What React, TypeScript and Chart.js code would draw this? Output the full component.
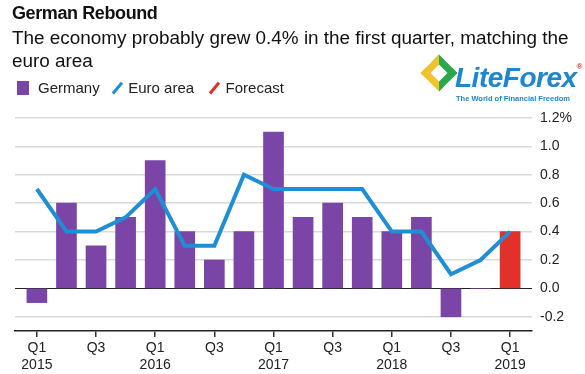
import React, { useEffect, useRef } from "react";
import { Chart, registerables } from "chart.js";

Chart.register(...registerables);

const quarters = [
  "Q1 2015", "Q2 2015", "Q3 2015", "Q4 2015",
  "Q1 2016", "Q2 2016", "Q3 2016", "Q4 2016",
  "Q1 2017", "Q2 2017", "Q3 2017", "Q4 2017",
  "Q1 2018", "Q2 2018", "Q3 2018", "Q4 2018",
  "Q1 2019",
];
const germany: (number | null)[] = [-0.1, 0.6, 0.3, 0.5, 0.9, 0.4, 0.2, 0.4, 1.1, 0.5, 0.6, 0.5, 0.4, 0.5, -0.2, 0.0, null];
const forecast: (number | null)[] = [null, null, null, null, null, null, null, null, null, null, null, null, null, null, null, null, 0.4];
const euroArea = [0.7, 0.4, 0.4, 0.5, 0.7, 0.3, 0.3, 0.8, 0.7, 0.7, 0.7, 0.7, 0.4, 0.4, 0.1, 0.2, 0.4];
const xTickIndex = [0, 2, 4, 6, 8, 10, 12, 14, 16];
const xTickLabels = [["Q1", "2015"], ["Q3"], ["Q1", "2016"], ["Q3"], ["Q1", "2017"], ["Q3"], ["Q1", "2018"], ["Q3"], ["Q1", "2019"]];
const yTicks = [-0.2, 0, 0.2, 0.4, 0.6, 0.8, 1.0, 1.2];

const FONT = '"Liberation Sans", Arial, Helvetica, sans-serif';
const PURPLE = "#7a45a6";
const BLUE = "#1e8fd5";
const RED = "#e2302a";

export default function App() {
  const ref = useRef<HTMLCanvasElement | null>(null);

  useEffect(() => {
    if (!ref.current) return;
    const toPts = (arr: (number | null)[]) =>
      arr.map((v, i) => ({ x: i, y: v })).filter((p) => p.y !== null);
    const chart = new Chart(ref.current, {
      type: "bar",
      data: {
        datasets: [
          {
            type: "line",
            label: "Euro area",
            data: toPts(euroArea) as any,
            borderColor: BLUE,
            borderWidth: 4,
            pointRadius: 0,
            tension: 0,
            order: 0,
          } as any,
          {
            type: "bar",
            label: "Germany",
            data: toPts(germany) as any,
            backgroundColor: PURPLE,
            barThickness: 20,
            grouped: false,
            order: 1,
          } as any,
          {
            type: "bar",
            label: "Forecast",
            data: toPts(forecast) as any,
            backgroundColor: RED,
            barThickness: 20,
            grouped: false,
            order: 1,
          } as any,
        ],
      },
      options: {
        responsive: false,
        animation: false,
        layout: { padding: { top: 118, left: 15, right: 0, bottom: 0 } },
        plugins: { legend: { display: false }, tooltip: { enabled: false } },
        scales: {
          x: {
            type: "linear",
            offset: false,
            min: -0.74,
            max: 16.74,
            afterBuildTicks: (scale: any) => {
              scale.ticks = xTickIndex.map((v) => ({ value: v }));
            },
            afterFit: (scale: any) => {
              scale.height = 43;
            },
            ticks: {
              autoSkip: false,
              maxRotation: 0,
              color: "#222",
              font: { family: FONT, size: 14 },
              padding: 3,
              callback: (value: any) => {
                const idx = xTickIndex.indexOf(Number(value));
                return idx >= 0 ? xTickLabels[idx] : "";
              },
            },
            grid: { offset: false, drawOnChartArea: false, drawTicks: true, tickLength: 6, color: "#333", lineWidth: 1.5 },
            border: { display: true, color: "#222", width: 1.5 },
          },
          y: {
            position: "right",
            min: -0.3,
            max: 1.2,
            afterBuildTicks: (scale: any) => {
              scale.ticks = yTicks.map((v) => ({ value: v }));
            },
            afterFit: (scale: any) => {
              scale.width = 53;
            },
            ticks: {
              color: "#222",
              font: { family: FONT, size: 14 },
              padding: 8,
              callback: (value: any) => {
                const v = Number(value);
                return Math.abs(v - 1.2) < 1e-6 ? "1.2%" : v.toFixed(1);
              },
            },
            grid: {
              drawTicks: false,
              color: (ctx: any) => (ctx.tick && Math.abs(ctx.tick.value) < 1e-6 ? "#222" : "#d9d9d9"),
              lineWidth: (ctx: any) => (ctx.tick && Math.abs(ctx.tick.value) < 1e-6 ? 1 : 1.5),
            },
            border: { display: false },
          },
        },
      } as any,
    });
    return () => chart.destroy();
  }, []);

  return (
    <div style={{ position: "fixed", left: 0, top: 0, width: 585, height: 374, background: "#fff", fontFamily: FONT, color: "#111", overflow: "hidden" }}>
      <canvas ref={ref} width={585} height={374} style={{ position: "absolute", left: 0, top: 0 }} />
      <div style={{ position: "absolute", left: 12, top: 3, fontSize: 18, fontWeight: "bold", letterSpacing: -0.4 }}>German Rebound</div>
      <div style={{ position: "absolute", left: 12, top: 26, width: 575, fontSize: 18.9, lineHeight: "23px" }}>
        The economy probably grew 0.4% in the first quarter, matching the euro area
      </div>
      <div style={{ position: "absolute", left: 17, top: 79, fontSize: 15, display: "flex", alignItems: "center", color: "#222" }}>
        <span style={{ display: "inline-block", width: 12, height: 14, background: PURPLE, marginRight: 9 }} />
        <span style={{ marginRight: 14 }}>Germany</span>
        <span style={{ display: "inline-block", width: 2.5, height: 14, background: BLUE, transform: "rotate(40deg)", marginRight: 10, marginLeft: 2 }} />
        <span style={{ marginRight: 17 }}>Euro area</span>
        <span style={{ display: "inline-block", width: 2.5, height: 14, background: RED, transform: "rotate(40deg)", marginRight: 10, marginLeft: 2 }} />
        <span>Forecast</span>
      </div>
      <div style={{ position: "absolute", left: 426, top: 60, width: 26, height: 26, border: "7px solid #f2c12e", borderRightColor: "#2aa84a", borderTopColor: "#2aa84a", transform: "rotate(45deg)", boxSizing: "border-box" }} />
      <div style={{ position: "absolute", left: 455, top: 62, fontSize: 28, fontWeight: "bold", fontStyle: "italic", color: "#1d86cf", letterSpacing: -0.5 }}>
        LiteForex<span style={{ fontSize: 8, verticalAlign: "top", fontStyle: "normal", color: "#e2302a" }}>®</span>
      </div>
      <div style={{ position: "absolute", left: 456, top: 94, fontSize: 7.5, fontWeight: "bold", color: "#1d86cf" }}>The World of Financial Freedom</div>
    </div>
  );
}
